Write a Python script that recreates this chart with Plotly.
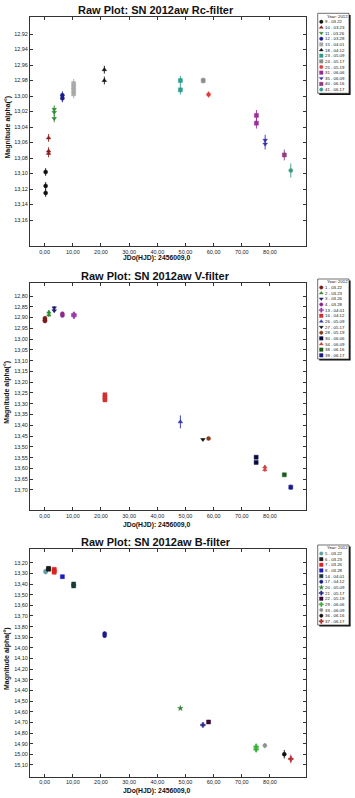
import plotly.graph_objects as go

# ---------------- data ----------------
x_ticks = [0, 10, 20, 30, 40, 50, 60, 70, 80]

rc_labels = ["9 - 03.22", "10 - 03.23", "11 - 03.26", "12 - 03.28", "15 - 04.01", "18 - 04.12",
             "23 - 05.09", "24 - 05.17", "25 - 05.19", "31 - 06.06", "35 - 06.09", "40 - 06.16", "41 - 06.17"]
rc_day = [0.35, 1.4, 3.4, 6.3, 10.3, 21.2, 48.2, 56.3, 58.2, 75.2, 78.3, 85.1, 87.4]
rc_mag = [[13.098, 13.116, 13.125], [13.054, 13.071, 13.074], [13.017, 13.021, 13.029], [12.999, 13.003],
          [12.984, 12.988, 12.992, 12.997], [12.966, 12.980], [12.980, 12.992], [12.980], [12.998],
          [13.025, 13.035], [13.057, 13.062], [13.076], [13.096]]
rc_err = [0.005, 0.005, 0.005, 0.005, 0.006, 0.005, 0.006, 0.004, 0.004, 0.007, 0.007, 0.007, 0.009]
rc_ticks = [12.92, 12.94, 12.96, 12.98, 13.00, 13.02, 13.04, 13.06, 13.08, 13.10, 13.12, 13.14, 13.16]

v_labels = ["1 - 03.22", "2 - 03.23", "3 - 03.26", "4 - 03.28", "13 - 04.01", "16 - 04.12",
            "26 - 05.09", "27 - 05.17", "28 - 05.19", "30 - 06.06", "34 - 06.09", "38 - 06.16", "39 - 06.17"]
v_day = [0.1, 1.5, 3.4, 6.3, 10.4, 21.4, 48.2, 56.2, 58.2, 75.1, 78.2, 85.1, 87.4]
v_mag = [[12.903, 12.912, 12.916], [12.875, 12.888], [12.855, 12.868], [12.882, 12.890], [12.885, 12.893],
         [13.258, 13.270, 13.282], [13.384], [13.466], [13.461], [13.548, 13.572], [13.594, 13.606],
         [13.630], [13.687]]
v_err = [0.008, 0.01, 0.008, 0.008, 0.008, 0.006, 0.03, 0.005, 0.005, 0.006, 0.01, 0.006, 0.012]
v_ticks = [12.80, 12.85, 12.90, 12.95, 13.00, 13.05, 13.10, 13.15, 13.20, 13.25, 13.30, 13.35,
           13.40, 13.45, 13.50, 13.55, 13.60, 13.65, 13.70]

b_labels = ["5 - 03.22", "6 - 03.23", "7 - 03.26", "8 - 03.28", "14 - 04.01", "17 - 04.12",
            "20 - 05.09", "21 - 05.17", "22 - 05.19", "29 - 06.06", "33 - 06.09", "36 - 06.16", "37 - 06.17"]
b_day = [0.35, 1.4, 3.4, 6.3, 10.3, 21.3, 48.2, 56.2, 58.2, 75.1, 78.2, 85.1, 87.4]
b_mag = [[13.278, 13.288], [13.253, 13.262], [13.262, 13.276, 13.290], [13.331], [13.400, 13.418],
         [13.865, 13.885], [14.567], [14.724], [14.696], [14.928, 14.953], [14.918], [14.999], [15.043]]
b_err = [0.012, 0.01, 0.012, 0.01, 0.012, 0.015, 0.01, 0.01, 0.01, 0.03, 0.025, 0.04, 0.04]
b_ticks = [13.20, 13.30, 13.40, 13.50, 13.60, 13.70, 13.80, 13.90, 14.00, 14.10, 14.20, 14.30,
           14.40, 14.50, 14.60, 14.70, 14.80, 14.90, 15.00, 15.10]

# ---------------- styles ----------------
rc_colors = ["#111111", "#8B1C1C", "#2E8B2E", "#1C1C8C", "#A8A8A8", "#111111", "#2E9E8E",
             "#8C8C8C", "#E03C3C", "#9B2D9B", "#3535A8", "#8E3A7E", "#3A9A8A"]
rc_symbols = ["circle", "triangle-up", "triangle-down", "circle", "square", "triangle-up", "square",
              "square", "circle", "square", "triangle-down", "square", "circle"]
v_colors = ["#7A1A1A", "#2E8B2E", "#1A1A6E", "#8A2A8A", "#9A3AAA", "#D03030", "#3030B0",
            "#111111", "#8B3A1A", "#0A0A40", "#D04040", "#1A5A1A", "#1A1A8A"]
v_symbols = ["circle", "triangle-up", "triangle-down", "circle", "cross", "square", "triangle-up",
             "triangle-down", "circle", "square", "triangle-up", "square", "square"]
b_colors = ["#5F9E9E", "#1A1A1A", "#E02020", "#1A1AC0", "#1A3A3A", "#1A1A8A", "#2E7D2E",
            "#2A2A8A", "#3A0A3A", "#3AB03A", "#909090", "#111111", "#B03030"]
b_symbols = ["circle", "square", "square", "square", "square", "circle", "star",
             "cross", "square", "cross", "circle", "circle", "cross"]

W, H = 355, 798
PLOT_L, PLOT_R = 30, 306
panels = [(17, 246), (283.3, 510), (549.3, 776.7)]
y_ranges = [[13.1935, 12.898], [13.793, 12.741], [15.21, 13.074]]
titles = ["Raw Plot: SN 2012aw Rc-filter", "Raw Plot: SN 2012aw V-filter", "Raw Plot: SN 2012aw B-filter"]
title_y = [10, 275.7, 542.3]
xtitle_y = [258, 525, 791]
leg_tops = [13.3, 279, 545]
FONT = "Liberation Sans, Arial, sans-serif"

datasets = [
    (rc_labels, rc_day, rc_mag, rc_err, rc_colors, rc_symbols, rc_ticks),
    (v_labels, v_day, v_mag, v_err, v_colors, v_symbols, v_ticks),
    (b_labels, b_day, b_mag, b_err, b_colors, b_symbols, b_ticks),
]

fig = go.Figure()
layout = dict(
    width=W, height=H, margin=dict(l=0, r=0, t=0, b=0),
    paper_bgcolor="white", plot_bgcolor="rgba(0,0,0,0)",
    showlegend=False, separators=",.",
    font=dict(family=FONT, color="#222222"),
    annotations=[], shapes=[],
)

for k, (labels, days, mags, errs, colors, symbols, yt) in enumerate(datasets):
    sfx = "" if k == 0 else str(k + 1)
    top, bot = panels[k]
    axcommon = dict(showline=True, linecolor="#333333", linewidth=1, mirror="ticks",
                    ticks="inside", ticklen=3, tickcolor="#333333", showgrid=False,
                    zeroline=False, tickfont=dict(size=5.5, family=FONT, color="#222222"),
                    fixedrange=True)
    layout["xaxis" + sfx] = dict(domain=[PLOT_L / W, PLOT_R / W], range=[-5.2, 92.8],
                                 anchor="y" + sfx, tickvals=x_ticks, tickformat=".2f", **axcommon)
    layout["yaxis" + sfx] = dict(domain=[1 - bot / H, 1 - top / H], range=y_ranges[k],
                                 anchor="x" + sfx, tickvals=yt, tickformat=".2f", **axcommon)
    for i, lab in enumerate(labels):
        n = len(mags[i])
        fig.add_trace(go.Scatter(
            x=[days[i]] * n, y=mags[i], mode="markers", name=lab,
            xaxis="x" + sfx, yaxis="y" + sfx,
            marker=dict(symbol=symbols[i], color=colors[i], size=4,
                        line=dict(color=colors[i], width=0.5)),
            error_y=dict(type="data", array=[errs[i]] * n, visible=True, width=0,
                         thickness=0.9, color=colors[i]),
            showlegend=False, hoverinfo="skip"))

    # titles
    layout["annotations"].append(dict(
        text="<b>" + titles[k] + "</b>", x=155.7 / W, y=1 - title_y[k] / H, xref="paper", yref="paper",
        xanchor="center", yanchor="middle", showarrow=False, font=dict(size=11, family=FONT, color="#111111")))
    layout["annotations"].append(dict(
        text="<b>JDo(HJD): 2456009,0</b>", x=156 / W, y=1 - xtitle_y[k] / H, xref="paper", yref="paper",
        xanchor="center", yanchor="middle", showarrow=False, font=dict(size=6.8, family=FONT, color="#111111")))
    layout["annotations"].append(dict(
        text="<b>Magnitude alpha(°)</b>", x=7 / W, y=1 - ((top + bot) / 2 - 4) / H, xref="paper", yref="paper",
        xanchor="center", yanchor="middle", textangle=-90, showarrow=False,
        font=dict(size=7, family=FONT, color="#111111")))

    # manual legend box
    lt = leg_tops[k]
    ll, lw, lh = 317.7, 31.3, 80
    layout["shapes"].append(dict(type="rect", xref="x4", yref="y4", x0=ll + 1.6, x1=ll + lw + 1.6,
                                 y0=lt + 1.6, y1=lt + lh + 1.6, fillcolor="#111111", line=dict(width=0),
                                 layer="below"))
    layout["shapes"].append(dict(type="rect", xref="x4", yref="y4", x0=ll, x1=ll + lw,
                                 y0=lt, y1=lt + lh, fillcolor="white", line=dict(color="#333333", width=0.7),
                                 layer="below"))
    layout["annotations"].append(dict(
        text="Year: 2012", x=ll + lw - 0.5, y=lt + 2.9, xref="x4", yref="y4", xanchor="right", yanchor="middle",
        showarrow=False, borderpad=0, font=dict(size=4.3, family=FONT, color="#111111")))
    ly = [lt + 8.5 + 5.65 * i for i in range(len(labels))]
    fig.add_trace(go.Scatter(
        x=[ll + 3.6] * len(labels), y=ly, mode="markers", xaxis="x4", yaxis="y4",
        marker=dict(symbol=symbols, color=colors, size=3.5, line=dict(color=colors, width=0.4)),
        showlegend=False, hoverinfo="skip"))
    for i, lab in enumerate(labels):
        layout["annotations"].append(dict(
            text=lab, x=ll + 5.8, y=ly[i], xref="x4", yref="y4", xanchor="left", yanchor="middle",
            showarrow=False, borderpad=0, font=dict(size=4.3, family=FONT, color="#111111")))

layout["xaxis4"] = dict(domain=[0, 1], range=[0, W], anchor="y4", visible=False, fixedrange=True)
layout["yaxis4"] = dict(domain=[0, 1], range=[H, 0], anchor="x4", visible=False, fixedrange=True)

fig.update_layout(**layout)
fig.write_html("out.html")
